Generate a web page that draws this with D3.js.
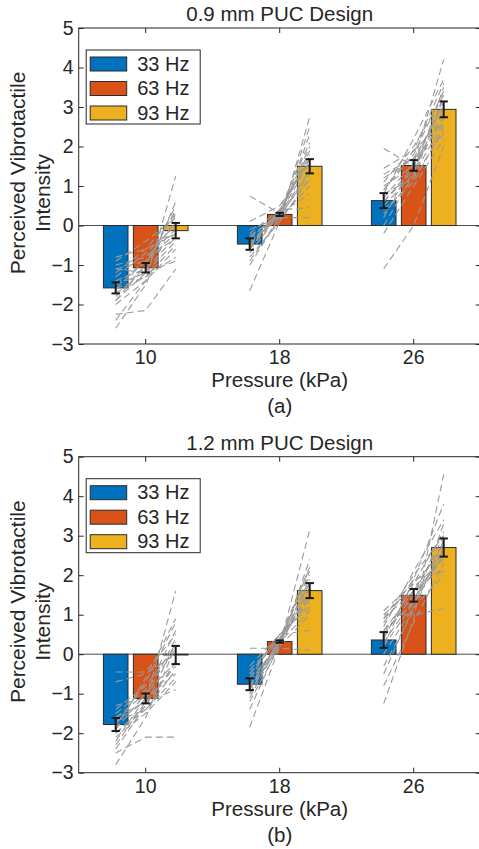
<!DOCTYPE html>
<html>
<head>
<meta charset="utf-8">
<script src="https://cdn.jsdelivr.net/npm/d3@7"></script>
<style>
  html, body { margin: 0; padding: 0; background: #fff; }
  svg { display: block; }
  text { font-family: "Liberation Sans", Arial, Helvetica, sans-serif; fill: #262626; }
</style>
</head>
<body>
<script>
// ---------- data ----------
const pressures = ["10", "18", "26"];
const freqs = ["33 Hz", "63 Hz", "93 Hz"];
const yTicks = [-3, -2, -1, 0, 1, 2, 3, 4, 5];
const panelTitles = ["0.9 mm PUC Design", "1.2 mm PUC Design"];
const panelTags = ["(a)", "(b)"];

// mean per pressure (rows) x frequency (cols)
const meansA = [[-1.58, -1.07, -0.13], [-0.47, 0.28, 1.50], [0.63, 1.52, 2.94]];
const semA   = [[0.14, 0.12, 0.195], [0.145, 0.04, 0.18], [0.19, 0.135, 0.20]];
const meansB = [[-1.78, -1.12, -0.02], [-0.76, 0.32, 1.61], [0.36, 1.49, 2.70]];
const semB   = [[0.165, 0.125, 0.23], [0.15, 0.03, 0.19], [0.20, 0.16, 0.23]];

// individual participants [33 Hz, 63 Hz, 93 Hz]
const subjA10 = [[-2.6,-1.5,0.3],[-2.25,-2.15,-1.1],[-2.4,-1.4,1.25],[-1.9,-1.2,0.6],[-1.8,-1.0,0.5],
  [-1.6,-1.3,-0.8],[-1.5,-0.9,0.1],[-1.4,-1.1,-0.3],[-1.2,-0.6,0.3],[-1.0,-0.8,-0.1],
  [-1.1,-1.2,-0.9],[-0.9,-0.4,0.2],[-1.7,-1.3,-0.5],[-2.0,-1.4,-0.6],[-1.3,-0.7,0.0],
  [-0.8,-0.6,-0.2],[-1.9,-1.0,0.4],[-1.5,-1.2,-0.4],[-1.6,-0.9,-0.2],[-1.1,-0.9,-0.3]];
const subjA18 = [[-1.65,0.1,2.75],[0.75,0.3,1.4],[-0.9,0.2,2.3],[-0.6,0.3,1.9],[-0.5,0.4,1.7],
  [-0.8,0.1,1.2],[-0.3,0.3,1.6],[-0.4,0.2,1.0],[-0.2,0.4,0.45],[-0.7,0.3,2.0],
  [-0.1,0.2,0.2],[-0.55,0.35,1.8],[-0.45,0.25,1.3],[-1.0,0.2,2.5],[0.1,0.5,1.6],
  [-0.35,0.35,1.15],[-0.6,0.4,2.1],[-0.25,0.2,1.4],[-0.5,0.3,0.8],[-0.45,0.35,1.7]];
const subjA26 = [[-1.1,0.0,2.0],[1.95,1.5,3.2],[1.45,1.9,2.6],[0.2,1.6,4.2],[0.5,1.3,3.5],
  [0.9,1.8,3.4],[0.6,1.4,2.8],[1.2,1.7,3.0],[0.3,1.2,2.4],[0.8,2.2,3.7],
  [1.0,1.5,2.7],[0.4,1.1,2.5],[0.7,1.6,3.1],[-0.2,1.0,2.2],[1.1,2.0,3.3],
  [0.6,1.5,2.9],[0.0,1.3,2.6],[0.9,1.9,3.6],[1.3,1.7,2.3],[0.8,1.2,3.3]];
const subjB10 = [[-2.8,-1.6,0.2],[-2.5,-2.1,-2.1],[-0.45,-0.45,0.5],[-2.3,-1.2,1.6],[-2.0,-1.3,0.3],
  [-1.9,-1.0,0.6],[-1.7,-1.4,-0.6],[-1.5,-0.9,0.1],[-2.1,-1.5,-0.7],[-1.4,-0.8,0.2],
  [-2.2,-1.1,0.4],[-1.6,-1.2,-0.3],[-0.7,-0.5,0.0],[-2.4,-1.3,-0.2],[-1.8,-0.7,0.8],
  [-1.3,-1.1,-0.5],[-2.0,-1.4,-0.4],[-1.9,-0.6,0.9],[-1.6,-1.0,-0.2],[-1.7,-1.2,-0.9]];
const subjB18 = [[-1.85,0.2,3.15],[0.15,0.15,0.1],[-1.4,0.3,2.2],[-1.0,0.4,2.0],[-0.8,0.3,1.9],
  [-0.6,0.5,0.6],[-0.9,0.2,1.7],[-0.5,0.4,1.5],[-0.7,0.3,1.8],[-1.2,0.2,2.4],
  [-0.3,0.5,1.2],[-0.8,0.3,1.6],[-1.0,0.3,2.1],[-0.4,0.4,1.3],[-0.6,0.2,1.0],
  [-1.1,0.3,1.8],[-0.5,0.5,1.4],[-0.9,0.4,2.2],[-0.7,0.3,1.1],[-0.85,0.35,1.4]];
const subjB26 = [[-1.25,0.9,4.55],[1.0,1.0,1.15],[0.8,1.9,3.8],[-0.5,1.2,3.3],[0.5,1.5,2.5],
  [0.9,2.0,3.0],[0.2,1.3,2.7],[0.6,1.6,2.2],[-0.3,1.1,2.9],[0.4,1.8,3.1],
  [1.0,1.7,2.4],[0.0,1.2,2.0],[0.7,2.1,3.4],[0.3,1.4,2.6],[-0.8,0.8,2.3],
  [0.9,1.6,2.8],[0.5,1.5,3.0],[0.2,1.9,2.1],[1.1,1.8,2.6],[0.6,1.3,2.5]];

// ---------- style ----------
const colors = ["#0072BD", "#D95319", "#EDB120"];
const axisColor = "#262626";

const W = 479, H = 849;
const svg = d3.select("body").append("svg").attr("width", W).attr("height", H);

const panels = [
  { top: 28, means: meansA, sem: semA, subj: [subjA10, subjA18, subjA26] },
  { top: 456.7, means: meansB, sem: semB, subj: [subjB10, subjB18, subjB26] }
];
const plotH = 316, left = 78.7, right = 480.7;

panels.forEach((p, pi) => {
  const g = svg.append("g");
  const y = d3.scaleLinear().domain([-3, 5]).range([p.top + plotH, p.top]);
  const x = d3.scaleBand().domain(pressures).range([left, right]);
  const xs = d3.scaleBand().domain(freqs).range([-45, 45]).paddingInner(0.18).paddingOuter(0.09);
  const cx = (pIdx, fIdx) => x(pressures[pIdx]) + x.bandwidth() / 2 + xs(freqs[fIdx]) + xs.bandwidth() / 2;

  // zero baseline
  g.append("line").attr("x1", left).attr("x2", right).attr("y1", y(0)).attr("y2", y(0))
    .attr("stroke", "#4d4d4d").attr("stroke-width", 1);

  // bars
  const barData = [];
  p.means.forEach((row, i) => row.forEach((v, j) => barData.push({ i, j, v, e: p.sem[i][j] })));
  g.selectAll("rect.bar").data(barData).join("rect").attr("class", "bar")
    .attr("x", d => x(pressures[d.i]) + x.bandwidth() / 2 + xs(freqs[d.j]))
    .attr("width", xs.bandwidth())
    .attr("y", d => Math.min(y(d.v), y(0)))
    .attr("height", d => Math.abs(y(d.v) - y(0)))
    .attr("fill", d => colors[d.j])
    .attr("stroke", "#2b2b2b").attr("stroke-width", 1);

  // participant lines
  const line = d3.line().x(d => d[0]).y(d => d[1]);
  p.subj.forEach((list, i) => {
    list.forEach(s => {
      g.append("path")
        .attr("d", line(s.map((v, j) => [cx(i, j), y(v)])))
        .attr("fill", "none").attr("stroke", "#9a9a9a").attr("stroke-width", 1.1)
        .attr("stroke-dasharray", "7,4");
    });
  });

  // error bars
  const eb = g.selectAll("g.eb").data(barData).join("g").attr("class", "eb")
    .attr("stroke", "#1a1a1a").attr("stroke-width", 2);
  eb.append("line").attr("x1", d => cx(d.i, d.j)).attr("x2", d => cx(d.i, d.j))
    .attr("y1", d => y(d.v + d.e)).attr("y2", d => y(d.v - d.e));
  eb.append("line").attr("x1", d => cx(d.i, d.j) - 4.2).attr("x2", d => cx(d.i, d.j) + 4.2)
    .attr("y1", d => y(d.v + d.e)).attr("y2", d => y(d.v + d.e));
  eb.append("line").attr("x1", d => cx(d.i, d.j) - 4.2).attr("x2", d => cx(d.i, d.j) + 4.2)
    .attr("y1", d => y(d.v - d.e)).attr("y2", d => y(d.v - d.e));

  // axes
  const styleAxis = sel => {
    sel.select(".domain").remove();
    sel.selectAll(".tick line").attr("stroke", axisColor);
    sel.selectAll(".tick text").attr("fill", axisColor).style("font-size", "19.5px")
      .style("font-family", '"Liberation Sans", Arial, sans-serif');
  };
  g.append("g").attr("transform", `translate(${left},0)`)
    .call(d3.axisLeft(y).tickValues(yTicks).tickSize(-5).tickPadding(5)).call(styleAxis);
  g.append("g").attr("transform", `translate(${right},0)`)
    .call(d3.axisRight(y).tickValues(yTicks).tickSize(-5).tickFormat("")).call(styleAxis);
  g.append("g").attr("transform", `translate(0,${p.top + plotH})`)
    .call(d3.axisBottom(x).tickSize(-5).tickPadding(6.5)).call(styleAxis);
  g.append("g").attr("transform", `translate(0,${p.top})`)
    .call(d3.axisTop(x).tickSize(-5).tickFormat("")).call(styleAxis);
  g.append("rect").attr("x", left).attr("y", p.top).attr("width", right - left).attr("height", plotH)
    .attr("fill", "none").attr("stroke", axisColor).attr("stroke-width", 1);

  // title, labels
  g.append("text").attr("x", (left + right) / 2).attr("y", p.top - 7).attr("text-anchor", "middle")
    .style("font-size", "20.5px").text(panelTitles[pi]);
  g.append("text").attr("x", (left + right) / 2).attr("y", p.top + plotH + 43).attr("text-anchor", "middle")
    .style("font-size", "20.5px").text("Pressure (kPa)");
  g.append("text").attr("x", (left + right) / 2).attr("y", p.top + plotH + 69).attr("text-anchor", "middle")
    .style("font-size", "20.5px").text(panelTags[pi]);
  const cyLab = p.top + 145;
  g.append("text").attr("transform", `translate(25,${cyLab}) rotate(-90)`).attr("text-anchor", "middle")
    .style("font-size", "21px").text("Perceived Vibrotactile");
  g.append("text").attr("transform", `translate(50,${cyLab + 20}) rotate(-90)`).attr("text-anchor", "middle")
    .style("font-size", "21px").text("Intensity");

  // legend
  const lg = g.append("g").attr("transform", `translate(${left + 7.5},${p.top + 22})`);
  lg.append("rect").attr("width", 114).attr("height", 74).attr("fill", "#fff")
    .attr("stroke", axisColor).attr("stroke-width", 1);
  freqs.forEach((f, k) => {
    lg.append("rect").attr("x", 4).attr("y", 7 + k * 24.5).attr("width", 36.5).attr("height", 14)
      .attr("fill", colors[k]).attr("stroke", "#2b2b2b").attr("stroke-width", 1);
    lg.append("text").attr("x", 51).attr("y", 20.5 + k * 24.5).style("font-size", "20px").text(f);
  });
});
</script>
</body>
</html>
